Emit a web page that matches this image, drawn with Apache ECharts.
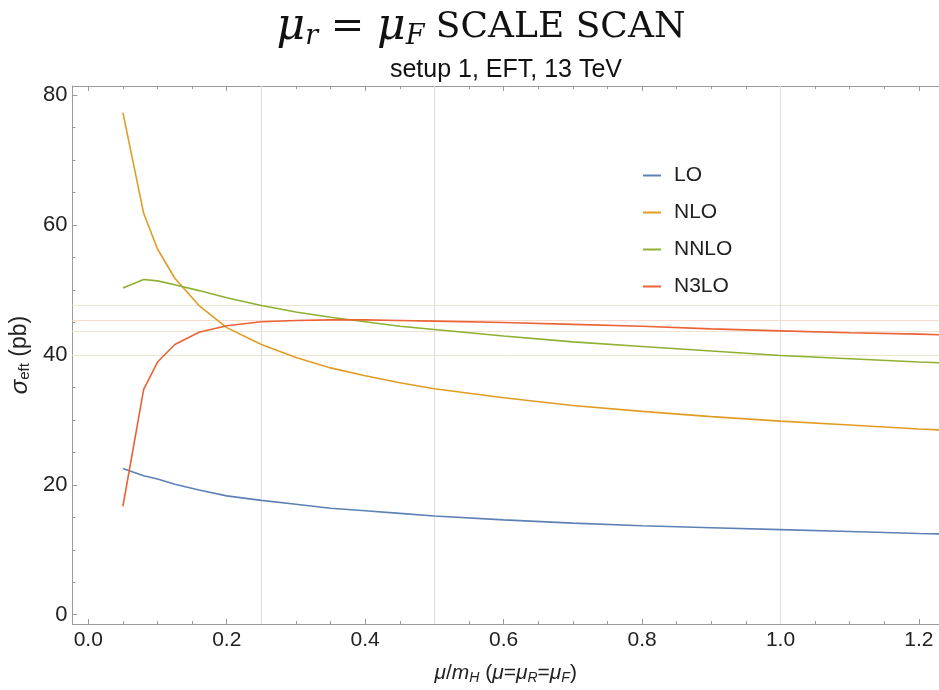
<!DOCTYPE html>
<html>
<head>
<meta charset="utf-8">
<script src="https://cdn.jsdelivr.net/npm/echarts@6/dist/echarts.min.js"></script>
<style>html,body{margin:0;padding:0;background:#fff;}#c{width:939px;height:690px;}</style>
</head>
<body>
<div id="c"></div>
<script>
const scaleX = [0.05,0.08,0.1,0.125,0.16,0.2,0.25,0.3,0.35,0.4,0.45,0.5,0.6,0.7,0.8,0.9,1.0,1.1,1.2,1.3];
const LO   = [22.5,21.4,20.9,20.1,19.2,18.3,17.6,17.0,16.4,16.0,15.6,15.2,14.6,14.1,13.7,13.4,13.1,12.8,12.5,12.3];
const NLO  = [77.3,61.8,56.3,51.8,47.6,44.2,41.6,39.6,38.0,36.8,35.7,34.8,33.4,32.2,31.3,30.5,29.8,29.2,28.6,28.1];
const NNLO = [50.3,51.6,51.4,50.8,49.9,48.8,47.6,46.6,45.8,45.1,44.4,43.9,42.9,42.0,41.3,40.6,39.9,39.4,38.9,38.5];
const N3LO = [16.7,34.7,38.9,41.6,43.5,44.5,45.1,45.3,45.4,45.4,45.3,45.2,45.0,44.7,44.4,44.0,43.7,43.4,43.2,42.9];
const seriesNames = ['LO','NLO','NNLO','N3LO'];
const xMajorTicks = [0,0.2,0.4,0.6,0.8,1.0,1.2];
const xMinorTicks = [0.05,0.1,0.15,0.25,0.3,0.35,0.45,0.5,0.55,0.65,0.7,0.75,0.85,0.9,0.95,1.05,1.1,1.15];
const yMajorTicks = [0,20,40,60,80];
const yMinorTicks = [5,10,15,25,30,35,45,50,55,65,70,75];
const refLinesY = [47.6,45.4,43.7,39.9];
const gridLinesX = [0.25,0.5,1.0];

const colors = ['#5E81B5','#E19C24','#8FB032','#EB6235'];
const refColors = ['#ebe7cf','#f5dacd','#efe3d3','#e9e7cc'];
const FONT = 'Liberation Sans';
const axisGray = '#9a9a9a';

function pairs(ys){ return scaleX.map((x,i)=>[x,ys[i]]); }
const allData = [LO,NLO,NNLO,N3LO];

const XMIN=-0.023, XMAX=1.229, YMIN=-1.43, YMAX=81.4;

const chart = echarts.init(document.getElementById('c'), null, {renderer:'canvas'});
const baseX = (pos, ticks, len, showLabel, showLine) => ({
  type:'value', position:pos, min:XMIN, max:XMAX, gridIndex:0,
  axisLine:{show:showLine, onZero:false, lineStyle:{color:axisGray,width:1}},
  axisTick:{show:true, inside:true, length:len, customValues:ticks, lineStyle:{color:axisGray}},
  axisLabel:{show:showLabel, customValues:ticks, formatter:v=>v.toFixed(1), fontFamily:FONT, fontSize:21, color:'#222', margin:6},
  splitLine:{show:false}
});
const baseY = (pos, ticks, len, showLabel, showLine) => ({
  type:'value', position:pos, min:YMIN, max:YMAX, gridIndex:0,
  axisLine:{show:showLine, onZero:false, lineStyle:{color:axisGray,width:1}},
  axisTick:{show:true, inside:true, length:len, customValues:ticks, lineStyle:{color:axisGray}},
  axisLabel:{show:showLabel, customValues:ticks, formatter:v=>String(v), fontFamily:FONT, fontSize:22, color:'#222', margin:5},
  splitLine:{show:false}
});

const xMain = baseX('bottom', xMajorTicks, 5, true, true);
xMain.name = '{i|μ}/{i|m}{s|H} ({i|μ}={i|μ}{s|R}={i|μ}{s|F})';
xMain.nameLocation = 'middle';
xMain.nameGap = 38;
xMain.nameTextStyle = {fontFamily:FONT, fontSize:21, color:'#222',
  rich:{i:{fontFamily:FONT,fontSize:21,fontStyle:'italic',color:'#222'}, s:{fontFamily:FONT,fontSize:14,fontStyle:'italic',color:'#222',verticalAlign:'bottom',padding:[9,0,0,0]}}};

const yMain = baseY('left', yMajorTicks, 5, true, true);
yMain.name = '{i|σ}{s|eft} (pb)';
yMain.nameLocation = 'middle';
yMain.nameGap = 22;
yMain.nameTextStyle = {fontFamily:FONT, fontSize:23, color:'#222',
  rich:{i:{fontFamily:FONT,fontSize:24,fontStyle:'italic',color:'#222'}, s:{fontFamily:FONT,fontSize:15,color:'#222',verticalAlign:'bottom',padding:[9,0,0,0]}}};

const series = seriesNames.map((n,k)=>({
  name:n, type:'line', data:pairs(allData[k]), xAxisIndex:0, yAxisIndex:0,
  showSymbol:false, symbol:'none', smooth:false, clip:true, z:5,
  lineStyle:{color:colors[k], width:1.6}, itemStyle:{color:colors[k]}
}));
series.unshift({
  name:'refs', type:'line', data:[], xAxisIndex:0, yAxisIndex:0, silent:true, z:1,
  markLine:{silent:true, symbol:['none','none'], label:{show:false}, animation:false,
    data: refLinesY.map((v,i)=>({yAxis:v, lineStyle:{color:refColors[i], width:1, type:'solid'}}))
      .concat(gridLinesX.map(v=>({xAxis:v, lineStyle:{color:'#dddddd', width:1, type:'solid'}})))
  }
});

chart.setOption({
  animation:false,
  backgroundColor:'#fff',
  title:[{
    text:'{m|μ}{s|r}{e| = }{m|μ}{s|F}{n| SCALE SCAN}',
    left:476, top:1, textAlign:'center',
    textStyle:{fontWeight:'normal', rich:{
      m:{fontFamily:'DejaVu Serif',fontStyle:'italic',fontWeight:'normal',fontSize:44,color:'#111'},
      s:{fontFamily:'DejaVu Serif',fontStyle:'italic',fontWeight:'normal',fontSize:27,color:'#111',verticalAlign:'bottom',padding:[15,0,0,0]},
      e:{fontFamily:'DejaVu Serif',fontWeight:'normal',fontSize:40,color:'#111'},
      n:{fontFamily:'DejaVu Serif',fontWeight:'normal',fontSize:36,color:'#111'}
    }}
  },{
    text:'setup 1, EFT, 13 TeV', left:501, top:53, textAlign:'center',
    textStyle:{fontFamily:FONT,fontSize:25,fontWeight:'normal',color:'#111'}
  }],
  legend:{
    data:seriesNames, orient:'vertical', left:638, top:160, itemGap:16,
    itemWidth:18, itemHeight:2, icon:'rect',
    textStyle:{fontFamily:FONT,fontSize:21,color:'#222',padding:[0,0,0,8]}
  },
  grid:{left:70, right:0, top:86, bottom:65, containLabel:false},
  xAxis:[
    xMain,
    baseX('bottom', xMinorTicks, 3, false, false),
    baseX('top', xMajorTicks, 5, false, true),
    baseX('top', xMinorTicks, 3, false, false)
  ],
  yAxis:[
    yMain,
    baseY('left', yMinorTicks, 3, false, false)
  ],
  series:series
});
</script>
</body>
</html>
